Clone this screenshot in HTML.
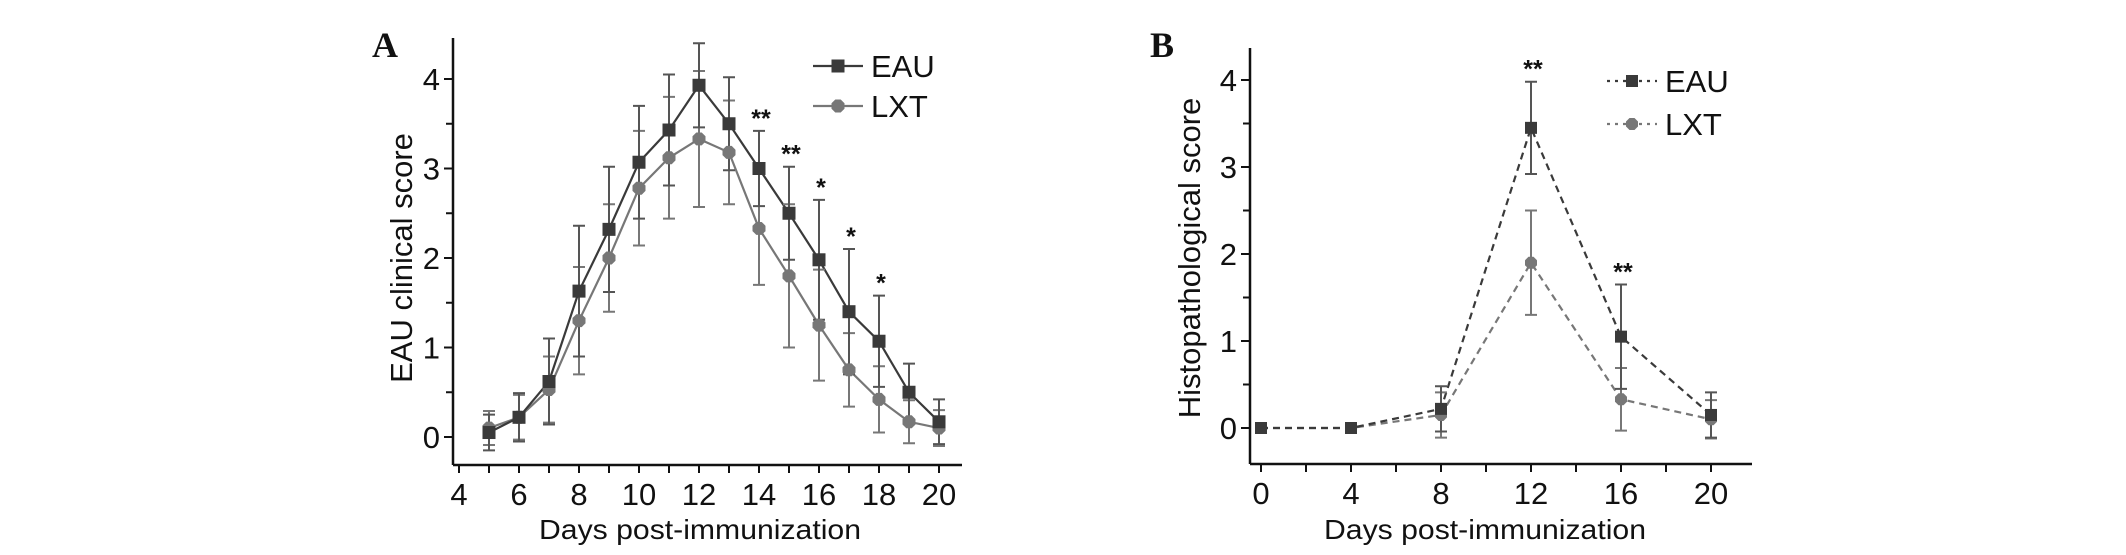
<!DOCTYPE html>
<html><head><meta charset="utf-8"><style>
html,body{margin:0;padding:0;background:#fff;}
svg{display:block;font-family:"Liberation Sans",sans-serif;}
</style></head><body>
<svg id="fig" width="2126" height="555" viewBox="0 0 2126 555" xmlns="http://www.w3.org/2000/svg">
<g id="pa"></g>
<g id="pb"></g>
</svg>
<script>
// Panel A data
const aDays = [5,6,7,8,9,10,11,12,13,14,15,16,17,18,19,20];
const aEau = [0.05,0.22,0.62,1.63,2.32,3.07,3.43,3.93,3.5,3.0,2.5,1.98,1.4,1.07,0.5,0.17];
const aEauErr = [0.2,0.27,0.48,0.73,0.7,0.63,0.62,0.47,0.52,0.42,0.52,0.67,0.7,0.51,0.32,0.25];
const aLxt = [0.1,0.22,0.53,1.3,2.0,2.78,3.12,3.33,3.18,2.33,1.8,1.25,0.75,0.42,0.17,0.1];
const aLxtErr = [0.19,0.25,0.37,0.6,0.6,0.64,0.68,0.76,0.58,0.63,0.8,0.62,0.41,0.37,0.24,0.2];
const aStars = [[14,"**"],[15,"**"],[16,"*"],[17,"*"],[18,"*"]];
const aXTicks = [4,6,8,10,12,14,16,18,20];
const aYTicks = [0,1,2,3,4];
// Panel B data
const bDays = [0,4,8,12,16,20];
const bEau = [0,0,0.22,3.45,1.05,0.15];
const bEauErr = [0.02,0.02,0.26,0.53,0.6,0.26];
const bLxt = [0,0,0.15,1.9,0.33,0.1];
const bLxtErr = [0.02,0.02,0.26,0.6,0.36,0.22];
const bStars = [[12,"**"],[16,"**"]];
const bXTicks = [0,4,8,12,16,20];
const bYTicks = [0,1,2,3,4];

const NS="http://www.w3.org/2000/svg";
function mk(parent,tag,attrs,text){const e=document.createElementNS(NS,tag);for(const k in attrs)e.setAttribute(k,attrs[k]);if(text!==undefined)e.textContent=text;parent.appendChild(e);return e;}

function sq(g,x,y,s,fill){return mk(g,'rect',{x:x-s/2,y:y-s/2,width:s,height:s,fill:fill});}
function oct(g,x,y,r,fill){let p=[];for(let i=0;i<8;i++){const a=Math.PI/8+i*Math.PI/4;p.push((x+r*Math.cos(a)).toFixed(1)+','+(y+r*Math.sin(a)).toFixed(1));}return mk(g,'polygon',{points:p.join(' '),fill:fill});}

function panel(g,cfg){
  const X=d=>cfg.x0+(d-cfg.d0)*cfg.dx;
  const Y=v=>cfg.y0-v*cfg.dy;
  const ya=mk(g,'line',{x1:cfg.ax,y1:cfg.top,x2:cfg.ax,y2:cfg.bot,stroke:'#111','stroke-width':2.5});
  
  
  const xa=mk(g,'line',{x1:cfg.ax,y1:cfg.bot,x2:cfg.right,y2:cfg.bot,stroke:'#111','stroke-width':2.5});
  
  
  cfg.yTicks.forEach(v=>{
    mk(g,'line',{x1:cfg.ax-9,y1:Y(v),x2:cfg.ax,y2:Y(v),stroke:'#111','stroke-width':2});
    if(v<4)mk(g,'line',{x1:cfg.ax-7,y1:Y(v+0.5),x2:cfg.ax,y2:Y(v+0.5),stroke:'#111','stroke-width':2});
    const t=mk(g,'text',{x:cfg.ax-13,y:Y(v)+11,'font-size':31,'text-anchor':'end',fill:'#111'},String(v));
    
    
  });
  for(let d=cfg.xMin;d<=cfg.xMax;d+=cfg.minorStep){
    mk(g,'line',{x1:X(d),y1:cfg.bot,x2:X(d),y2:cfg.bot+8,stroke:'#111','stroke-width':2});
  }
  cfg.xTicks.forEach(d=>{
    const t=mk(g,'text',{x:X(d),y:cfg.bot+40,'font-size':31,'text-anchor':'middle',fill:'#111'},String(d));
    
    
  });
  const xt=mk(g,'text',{x:cfg.xTitleX,y:539,'font-size':28,'text-anchor':'middle',fill:'#111',textLength:cfg.xTitleW,lengthAdjust:'spacingAndGlyphs'},'Days post-immunization');
  
  
  const yt=mk(g,'text',{x:0,y:0,'font-size':31,'text-anchor':'middle',fill:'#111',transform:`translate(${cfg.yTitleX},258) rotate(-90)`},cfg.yTitle);
  
  
  const pl=mk(g,'text',{x:cfg.labX,y:57,'font-size':36,'font-weight':'bold','font-family':'Liberation Serif, serif',fill:'#111'},cfg.label);
  
  

  const series=[[cfg.lxt,cfg.lxtErr,'#777','lxt'],[cfg.eau,cfg.eauErr,'#3a3a3a','eau']];
  series.forEach(([vals,errs,col,nm])=>{
    const pts=cfg.days.map((d,i)=>X(d)+','+Y(vals[i])).join(' ');
    const ln=mk(g,'polyline',{points:pts,fill:'none',stroke:col,'stroke-width':2.2,'stroke-dasharray':cfg.dash||'none'});
    
    
  });
  series.forEach(([vals,errs,col,nm])=>{
    cfg.days.forEach((d,i)=>{
      const x=X(d),t=Y(vals[i]+errs[i]),b=Y(vals[i]-errs[i]);
      const eb=mk(g,'path',{d:`M${x},${t}V${b}M${x-6},${t}H${x+6}M${x-6},${b}H${x+6}`,stroke:nm==='eau'?'#555':'#777','stroke-width':2,fill:'none'});
      
      
    });
  });
  series.forEach(([vals,errs,col,nm])=>{
    cfg.days.forEach((d,i)=>{
      const m=nm==='eau'?sq(g,X(d),Y(vals[i]),cfg.ms,col):oct(g,X(d),Y(vals[i]),cfg.ms/2+0.5,col);
      
      
    });
  });
  cfg.stars.forEach(([d,s])=>{
    const i=cfg.days.indexOf(d);
    const t=mk(g,'text',{x:X(d)+2,y:Y(cfg.eau[i]+cfg.eauErr[i])-4,'font-size':25,'font-weight':'bold','text-anchor':'middle',fill:'#111'},s);
    
    
  });
  const lg=mk(g,'g',{});
  
  
  [['EAU',cfg.legY[0],'#3a3a3a','eau'],['LXT',cfg.legY[1],'#777','lxt']].forEach(([lab,y,col,nm])=>{
    const e=mk(lg,'g',{});
    
    
    mk(e,'line',{x1:cfg.legX-25,y1:y,x2:cfg.legX+25,y2:y,stroke:col,'stroke-width':2.2,'stroke-dasharray':cfg.dash?'3 5':'none'});
    if(nm==='eau')sq(e,cfg.legX,y,cfg.ms,col);else oct(e,cfg.legX,y,cfg.ms/2+0.5,col);
    mk(e,'text',{x:cfg.legX+33,y:y+11,'font-size':31,fill:'#111'},lab);
  });
}
panel(document.getElementById('pa'),{x0:459,d0:4,dx:30,y0:437,dy:89.5,ax:453,top:38,bot:465,right:962,
  xMin:4,xMax:20,minorStep:1,xTicks:aXTicks,yTicks:aYTicks,days:aDays,eau:aEau,eauErr:aEauErr,lxt:aLxt,lxtErr:aLxtErr,
  stars:aStars,ms:13,legX:838,legY:[66,106],label:'A',labX:372,yTitle:'EAU clinical score',yTitleX:412,xTitleX:700,xTitleW:322});
panel(document.getElementById('pb'),{x0:1261,d0:0,dx:22.5,y0:428,dy:87,ax:1250,top:48,bot:464,right:1752,
  xMin:0,xMax:20,minorStep:2,xTicks:bXTicks,yTicks:bYTicks,days:bDays,eau:bEau,eauErr:bEauErr,lxt:bLxt,lxtErr:bLxtErr,
  stars:bStars,ms:12,legX:1632,legY:[81,124],label:'B',labX:1150,yTitle:'Histopathological score',yTitleX:1200,xTitleX:1485,xTitleW:322,dash:'7 5'});
</script>
</body></html>
